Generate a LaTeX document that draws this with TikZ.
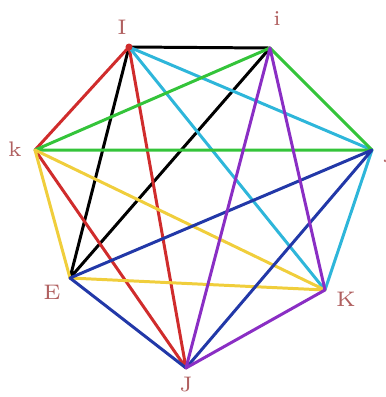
\documentclass[tikz,border=0pt]{standalone}
\usepackage{xcolor}
\definecolor{lblRed}{HTML}{B06060}
\definecolor{edRed}{HTML}{D02C2C}
\definecolor{edCyan}{HTML}{2EB6DA}
\definecolor{edGreen}{HTML}{34C43A}
\definecolor{edYellow}{HTML}{F0CE3C}
\definecolor{edBlue}{HTML}{2238A8}
\definecolor{edPurple}{HTML}{8A2EC4}
\usepackage{tikz}

\begin{document}
\begin{tikzpicture}[line width=0.85pt, line cap=round,
    vlabel/.style={text=lblRed, font=\fontsize{6}{7}\selectfont, inner sep=0pt}]
  \useasboundingbox (0,0) rectangle (3.86,3.97);
  % corners of the heptagon
  \coordinate (I) at (1.29,3.50);   % top left
  \coordinate (i) at (2.70,3.49);   % top right
  \coordinate (k) at (0.35,2.47);   % left
  \coordinate (j) at (3.72,2.47);   % right
  \coordinate (E) at (0.70,1.19);   % bottom left
  \coordinate (K) at (3.25,1.07);   % bottom right
  \coordinate (J) at (1.86,0.29);   % bottom
  % edges
  \draw[black]     (I) -- (i)  (I) -- (E)  (i) -- (E);
  \draw[edRed]     (I) -- (k)  (I) -- (J)  (k) -- (J);
  \draw[edCyan]    (I) -- (K)  (I) -- (j)  (j) -- (K);
  \draw[edGreen]   (i) -- (k)  (i) -- (j)  (k) -- (j);
  \draw[edYellow]  (k) -- (E)  (k) -- (K)  (E) -- (K);
  \draw[edBlue]    (j) -- (E)  (j) -- (J)  (E) -- (J);
  \draw[edPurple]  (i) -- (J)  (i) -- (K)  (K) -- (J);
  \fill[edRed] (I) circle (0.035);
  % corner labels
  \node[vlabel] (lI) at (1.22,3.70) {I};
  \node[vlabel] (li) at (2.77,3.78) {i};
  \node[vlabel] (lk) at (0.15,2.48) {k};
  \node[vlabel, anchor=west] (lj) at (3.83,2.43) {j};
  \node[vlabel] (lE) at (0.52,1.05) {E};
  \node[vlabel] (lK) at (3.46,0.98) {K};
  \node[vlabel] (lJ) at (1.86,0.12) {J};
\end{tikzpicture}
\end{document}
